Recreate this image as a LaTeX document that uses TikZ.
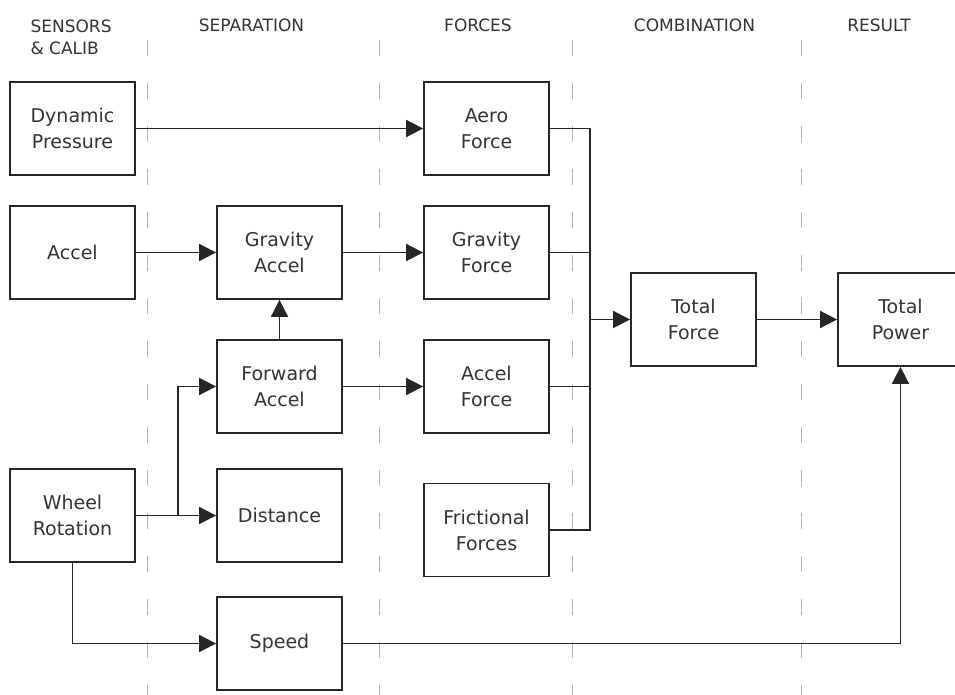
\documentclass[tikz,border=0pt]{standalone}
\usepackage{fontspec}
\setmainfont{DejaVu Sans}
\usetikzlibrary{positioning,arrows.meta}
\begin{document}
\begin{tikzpicture}[node distance=103.5pt,>={Triangle[length=8.5pt,width=8.5pt]},line width=0.9pt,draw=black!85,
        block/.style={draw, rectangle, minimum width=62.5pt, minimum height=46.5pt, inner sep=0pt, align=center, text=black!80, font=\fontsize{9.5}{13}\selectfont},
        stage/.style={align=left, text=black!80, font=\fontsize{8.5}{11}\selectfont},
        lane/.style={draw=black!30, line width=0.5pt, dash pattern=on 8pt off 13.5pt}]
        \useasboundingbox (0,0) rectangle (477.5pt,-347.5pt);
        \foreach \x in {73.5,189.5,286,400.5}
            \draw[lane] (\x pt,-20pt) -- (\x pt,-347.5pt);

        \node (sensors) [stage, anchor=west] at (11.5pt,-18.5pt) {SENSORS\\\& CALIB};
        \node (separation) [stage] at (125.75pt,-12.5pt) {SEPARATION};
        \node (forces) [stage] at (239pt,-12.5pt) {FORCES};
        \node (combination) [stage] at (347.25pt,-12.5pt) {COMBINATION};
        \node (result) [stage] at (439.5pt,-12.5pt) {RESULT};

        \node (dynpress) [block] at (36.25pt,-64.25pt) {Dynamic\\Pressure};
        \node (accel) [block, below of=dynpress, node distance=62pt] {Accel};
        \node (wheel) [block, below of=accel, node distance=131.5pt] {Wheel\\Rotation};
        \node (gravaccel) [block, right of=accel] {Gravity\\Accel};
        \node (fwdaccel) [block, below of=gravaccel, node distance=67pt] {Forward\\Accel};
        \node (distance) [block, right of=wheel] {Distance};
        \node (speed) [block, below of=distance, node distance=64pt] {Speed};
        \node (aeroforce) [block, right of=dynpress, node distance=207pt] {Aero\\Force};
        \node (gravforce) [block, right of=gravaccel] {Gravity\\Force};
        \node (accelforce) [block, right of=fwdaccel] {Accel\\Force};
        \node (fricforce) [block, below of=accelforce, node distance=71.75pt] {Frictional\\Forces};
        \node (totalforce) [block, right of=gravforce, yshift=-33.5pt] {Total\\Force};
        \node (totalpower) [block, right of=totalforce] {Total\\Power};

        \coordinate[right=21pt of wheel.east] (split);
        \coordinate[right=20pt of aeroforce.east] (bustop);
        \coordinate[right=20pt of fricforce.east] (busbot);

        \draw[->] (dynpress) -- (aeroforce);
        \draw[->] (accel) -- (gravaccel);
        \draw[->] (gravaccel) -- (gravforce);
        \draw[->] (fwdaccel) -- (gravaccel);
        \draw[->] (fwdaccel) -- (accelforce);
        \draw[->] (wheel) -- (distance);
        \draw[->] (split) |- (fwdaccel);
        \draw[->] (wheel) |- (speed);
        \draw[->] (speed) -| (totalpower);
        \draw (aeroforce) -- (bustop) -- (busbot) -- (fricforce);
        \draw (gravforce) -- (gravforce -| bustop);
        \draw (accelforce) -- (accelforce -| bustop);
        \draw[->] (totalforce -| bustop) -- (totalforce);
        \draw[->] (totalforce) -- (totalpower);
    \end{tikzpicture}
\end{document}
